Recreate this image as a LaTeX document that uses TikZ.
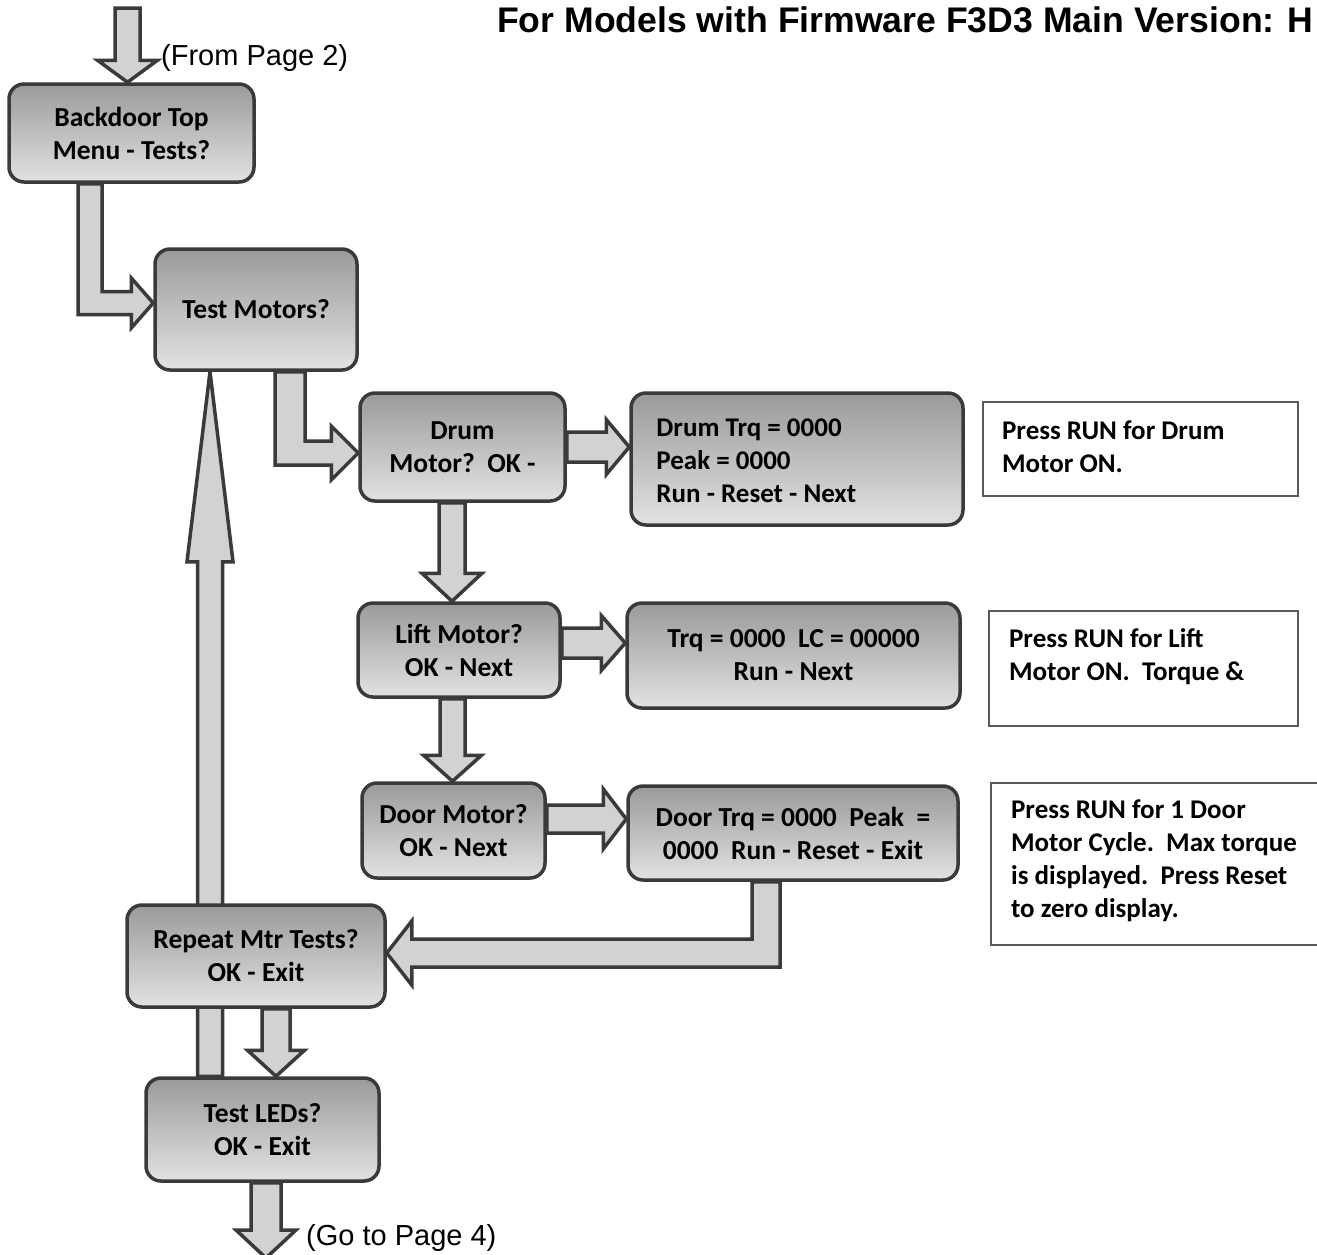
\documentclass[tikz,border=0pt]{standalone}
\usepackage{fontspec}
\setmainfont{Carlito}
\newfontfamily\arialfont{Liberation Sans}
\usetikzlibrary{calc}

\definecolor{edge}{HTML}{3A3A3A}
\definecolor{shaftfill}{HTML}{D2D2D2}
\definecolor{boxtop}{HTML}{9A9A9A}
\definecolor{boxbot}{HTML}{E2E2E2}
\definecolor{noteedge}{HTML}{5A5A5A}

\pgfdeclarelayer{bg}
\pgfsetlayers{bg,main}

\newcommand\mystepfont{\fontsize{27.5}{33}\selectfont\bfseries}
\newcommand\mynotefont{\fontsize{27}{33}\selectfont\bfseries}
\newcommand\mylabelfont{\arialfont\fontsize{29}{34}\selectfont}

\tikzset{
  stepbox/.style={draw=edge, line width=3.5pt, rounded corners=15pt,
    top color=boxtop, bottom color=boxbot, align=center, font=\mystepfont, inner sep=0pt},
  notebox/.style={draw=noteedge, line width=2.2pt, fill=white, inner sep=0pt},
  notetext/.style={anchor=west, align=left, inner sep=0pt, font=\mynotefont},
  pagelabel/.style={anchor=west, inner sep=0pt, font=\mylabelfont},
  blk/.style={draw=edge, fill=shaftfill, line width=3.5pt, line join=miter, miter limit=10},
}

% block arrows: #1 shaft start, #2 tip, #3 shaft half width, #4 head half width, #5 head length
\newcommand\blkdown[5]{\draw[blk] ($(#1)+(-#3,0)$) -- ($(#2)+(-#3,-#5)$) -- ($(#2)+(-#4,-#5)$) -- (#2)
  -- ($(#2)+(#4,-#5)$) -- ($(#2)+(#3,-#5)$) -- ($(#1)+(#3,0)$) -- cycle;}
\newcommand\blkup[5]{\draw[blk] ($(#1)+(-#3,0)$) -- ($(#2)+(-#3,#5)$) -- ($(#2)+(-#4,#5)$) -- (#2)
  -- ($(#2)+(#4,#5)$) -- ($(#2)+(#3,#5)$) -- ($(#1)+(#3,0)$) -- cycle;}
\newcommand\blkright[5]{\draw[blk] ($(#1)+(0,-#3)$) -- ($(#2)+(-#5,-#3)$) -- ($(#2)+(-#5,-#4)$) -- (#2)
  -- ($(#2)+(-#5,#4)$) -- ($(#2)+(-#5,#3)$) -- ($(#1)+(0,#3)$) -- cycle;}
% elbow arrows: #1 start, #2 bend, #3 tip, #4 vertical half width, #5 horizontal half width,
% #6 head half width, #7 head length
\newcommand\blkdownright[7]{\draw[blk] ($(#1)+(-#4,0)$) -- ($(#2)+(-#4,#5)$) -- ($(#3)+(-#7,#5)$)
  -- ($(#3)+(-#7,#6)$) -- (#3) -- ($(#3)+(-#7,-#6)$) -- ($(#3)+(-#7,-#5)$) -- ($(#2)+(#4,-#5)$)
  -- ($(#1)+(#4,0)$) -- cycle;}
\newcommand\blkdownleft[7]{\draw[blk] ($(#1)+(#4,0)$) -- ($(#2)+(#4,#5)$) -- ($(#3)+(#7,#5)$)
  -- ($(#3)+(#7,#6)$) -- (#3) -- ($(#3)+(#7,-#6)$) -- ($(#3)+(#7,-#5)$) -- ($(#2)+(-#4,-#5)$)
  -- ($(#1)+(-#4,0)$) -- cycle;}

\begin{document}
\begin{tikzpicture}[x=1pt, y=-1pt]
\useasboundingbox (0,0) rectangle (1317,1254);

% title
\node[anchor=base west, inner sep=0pt, font=\arialfont\bfseries\fontsize{35.6}{40}\selectfont]
  (title) at (497,32) {For Models with Firmware F3D3 Main Version: H};

% menu steps
\node[stepbox, minimum width=245pt, minimum height=98pt] (back) at (131.5,133) {Backdoor Top\\Menu - Tests?};
\node[stepbox, minimum width=202pt, minimum height=121pt] (tmot) at (256,309.5) {Test Motors?};
\node[stepbox, minimum width=205pt, minimum height=108pt] (drum) at (462.5,447) {Drum\\Motor?\ \ OK -};
\node[stepbox, minimum width=332pt, minimum height=132pt] (dtrq) at (797,459) {};
\node[stepbox, minimum width=202pt, minimum height=94pt] (lift) at (459,650) {Lift Motor?\\OK - Next};
\node[stepbox, minimum width=333pt, minimum height=105pt] (ltrq) at (793.5,655.5) {Trq = 0000\ \ LC = 00000\\Run - Next};
\node[stepbox, minimum width=183pt, minimum height=95pt] (door) at (453.5,830.5) {Door Motor?\\OK - Next};
\node[stepbox, minimum width=330pt, minimum height=94pt] (dortrq) at (793,833) {Door Trq = 0000\ \ Peak\ \ =\\0000\ \ Run - Reset - Exit};
\node[stepbox, minimum width=258pt, minimum height=102pt] (rep) at (256,956) {Repeat Mtr Tests?\\OK - Exit};
\node[stepbox, minimum width=233pt, minimum height=103pt] (leds) at (262.5,1129.5) {Test LEDs?\\OK - Exit};

\node[notetext] (dtrqtxt) at ($(dtrq.west)+(27,1.5)$) {Drum Trq = 0000\\Peak = 0000\\Run - Reset - Next};

% notes
\node[notebox, minimum width=315pt, minimum height=94pt] (n1) at (1140.5,449) {};
\node[notetext] (n1txt) at ($(n1.west)+(20,-2.5)$) {Press RUN for Drum\\Motor ON.};
\node[notebox, minimum width=309pt, minimum height=115pt] (n2) at (1143.5,668.5) {};
\node[notetext] (n2txt) at ($(n2.west)+(21,-12)$) {Press RUN for Lift\\Motor ON.\ \ Torque \&};
\node[notebox, minimum width=339pt, minimum height=162pt] (n3) at (1160.5,864) {};
\node[notetext] (n3txt) at ($(n3.west)+(21,-3)$) {Press RUN for 1 Door\\Motor Cycle.\ \ Max torque\\is displayed.\ \ Press Reset\\to zero display.};

% page references
\coordinate (in) at (127.5,8);
\coordinate (out) at (266,1258);
\node[pagelabel] (frompg) at (161,58) {(From Page 2)};
\node[pagelabel] (topg) at (306,1238) {(Go to Page 4)};

% connectors
\begin{pgfonlayer}{bg}
  \coordinate (a0t) at (in |- back.north);
  \blkdown{in}{a0t}{12.5}{30}{22}

  \coordinate (a1s) at ($(back.south)+(-41.5,0)$);
  \coordinate (a1t) at ($(tmot.west)+(0,-6.5)$);
  \coordinate (a1c) at (a1s |- a1t);
  \blkdownright{a1s}{a1c}{a1t}{12}{11.5}{25}{22}

  \coordinate (a2s) at ($(tmot.south)+(34,0)$);
  \coordinate (a2t) at ($(drum.west)+(0,6)$);
  \coordinate (a2c) at (a2s |- a2t);
  \blkdownright{a2s}{a2c}{a2t}{15}{12}{27}{27}

  \coordinate (a3s) at (drum.east);
  \coordinate (a3t) at (a3s -| dtrq.west);
  \blkright{a3s}{a3t}{15}{27.5}{23}

  \coordinate (a4s) at ($(drum.south)+(-10.5,0)$);
  \coordinate (a4t) at (a4s |- lift.north);
  \blkdown{a4s}{a4t}{13}{30}{28}

  \coordinate (a5s) at ($(lift.east)+(0,-7)$);
  \coordinate (a5t) at (a5s -| ltrq.west);
  \blkright{a5s}{a5t}{15}{27.5}{24}

  \coordinate (a6s) at ($(lift.south)+(-6.5,0)$);
  \coordinate (a6t) at (a6s |- door.north);
  \blkdown{a6s}{a6t}{12.5}{29}{26}

  \coordinate (a7s) at ($(door.east)+(0,-11.5)$);
  \coordinate (a7t) at (a7s -| dortrq.west);
  \blkright{a7s}{a7t}{14}{30}{23}

  \coordinate (a8s) at ($(dortrq.south)+(-27,0)$);
  \coordinate (a8t) at ($(rep.east)+(0,-3)$);
  \coordinate (a8c) at (a8s |- a8t);
  \blkdownleft{a8s}{a8c}{a8t}{14}{14}{32}{25}

  \coordinate (a9s) at ($(leds.north)+(-52.5,0)$);
  \coordinate (a9t) at (a9s |- tmot.south);
  \blkup{a9s}{a9t}{12.5}{23}{190}

  \coordinate (a10s) at ($(rep.south)+(20,0)$);
  \coordinate (a10t) at (a10s |- leds.north);
  \blkdown{a10s}{a10t}{14}{28.5}{26}

  \coordinate (a11s) at ($(leds.south)+(3.5,0)$);
  \coordinate (a11t) at (a11s |- out);
  \blkdown{a11s}{a11t}{15}{30}{28}
\end{pgfonlayer}
\end{tikzpicture}
\end{document}
